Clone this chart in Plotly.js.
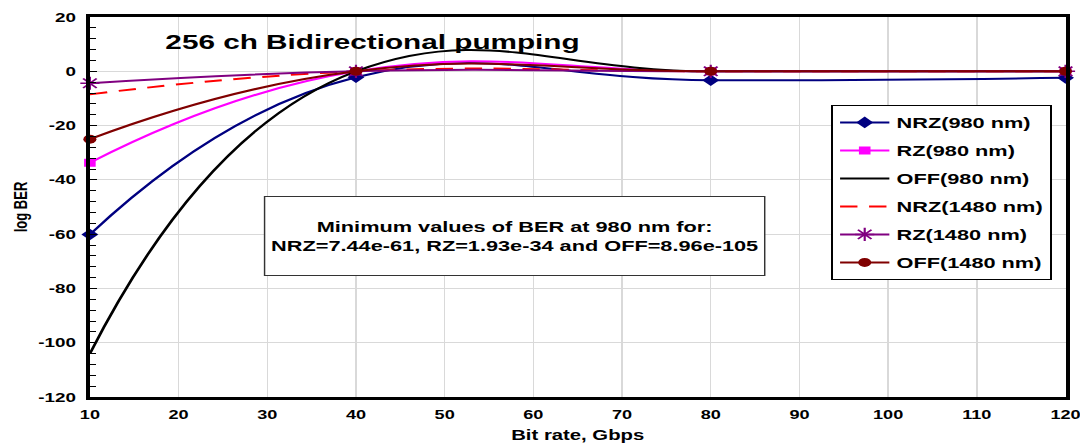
<!DOCTYPE html>
<html>
<head>
<meta charset="utf-8">
<script src="https://cdn.plot.ly/plotly-3.0.1.min.js"></script>
<style>
  html, body { margin: 0; padding: 0; background: #fff; overflow: hidden; }
  /* The chart is laid out at a narrower native width and stretched
     horizontally to fill the 1080px window. */
  #chart { width: 745px; height: 443px; transform-origin: 0 0; transform: scaleX(1.4497); }
</style>
</head>
<body>
<div id="chart"></div>
<script>
// Bit rate (Gbps) at which each configuration was simulated
const bitRate = [10, 40, 80, 120];

// log10(BER) per modulation format and pump wavelength
const nrz980  = [-60.13, -2.2, -3.3, -2.4];
const rz980   = [-33.71, 0, 0, 0];
const off980  = [-104.05, 0, 0, 0];
const nrz1480 = [-8.5, 0, 0, 0];
const rz1480  = [-4.4, 0, 0, 0];
const off1480 = [-25, 0, 0, 0];

const seriesNames = ['NRZ(980 nm)', 'RZ(980 nm)', 'OFF(980 nm)',
                     'NRZ(1480 nm)', 'RZ(1480 nm)', 'OFF(1480 nm)'];

const xTicks = [10, 20, 30, 40, 50, 60, 70, 80, 90, 100, 110, 120];
const yTicks = [-120, -100, -80, -60, -40, -20, 0, 20];

const chartTitle = '256 ch Bidirectional pumping';
const noteText = 'Minimum values of BER at 980 nm for:<br>NRZ=7.44e-61, RZ=1.93e-34 and OFF=8.96e-105';

const FONT = '"Liberation Sans", Arial, sans-serif';

function series(name, y, color, opts) {
  const t = {
    x: bitRate, y: y, name: name, type: 'scatter',
    mode: opts.symbol ? 'lines+markers' : 'lines',
    line: { color: color, width: 2, shape: 'spline', smoothing: 1.3, dash: opts.dash || 'solid' },
    cliponaxis: false,
    legendgroup: name
  };
  if (opts.symbol) {
    t.marker = { symbol: opts.symbol, size: opts.size || 8, color: color,
                 line: { color: color, width: opts.symbol === 'asterisk-open' ? 1.5 : 0 } };
  }
  return t;
}

const traces = [
  series(seriesNames[0], nrz980,  '#000080', { symbol: 'diamond', size: 9 }),
  series(seriesNames[1], rz980,   '#FF00FF', { symbol: 'square', size: 8 }),
  series(seriesNames[2], off980,  '#000000', {}),
  series(seriesNames[3], nrz1480, '#FF0000', { dash: '12px,8px' }),
  series(seriesNames[4], rz1480,  '#800080', { symbol: 'asterisk-open', size: 11 }),
  series(seriesNames[5], off1480, '#800000', { symbol: 'circle', size: 9 })
];

const layout = {
  width: 745, height: 443,
  margin: { l: 62, r: 10, t: 17, b: 46 },
  paper_bgcolor: '#fff', plot_bgcolor: '#fff',
  font: { family: FONT, color: '#000', size: 13, weight: 'bold' },
  showlegend: true,
  legend: {
    x: 0.760, y: 0.768, xanchor: 'left', yanchor: 'top',
    bgcolor: '#fff', bordercolor: '#000', borderwidth: 1,
    font: { family: FONT, size: 15, weight: 'bold', color: '#000' },
    itemwidth: 34,
    tracegroupgap: 5.5
  },
  xaxis: {
    range: [10, 120], tickvals: xTicks, ticktext: xTicks.map(String),
    showgrid: true, gridcolor: '#d9d9d9', gridwidth: 1,
    showline: true, linecolor: '#000', linewidth: 3, mirror: true,
    ticks: '', zeroline: false,
    tickfont: { family: FONT, size: 12.5, weight: 'bold' },
    ticklabelstandoff: 4, ticklabeloverflow: 'allow',
    title: { text: 'Bit rate, Gbps', font: { family: FONT, size: 14, weight: 'bold' }, standoff: 10 }
  },
  yaxis: {
    range: [-120, 20], tickvals: yTicks, ticktext: yTicks.map(String),
    showgrid: true, gridcolor: '#d9d9d9', gridwidth: 1,
    showline: true, linecolor: '#000', linewidth: 3, mirror: true,
    ticks: 'inside', ticklen: 5, tickwidth: 1, tickcolor: '#000', zeroline: false,
    minor: { dtick: 4, ticks: 'inside', ticklen: 4, tickwidth: 1, tickcolor: '#000', showgrid: false },
    tickfont: { family: FONT, size: 13, weight: 'bold' },
    ticklabelstandoff: 4,
    title: { text: 'log BER', font: { family: FONT, size: 13, weight: 'bold' }, standoff: 5 }
  },
  annotations: [
    {
      text: chartTitle, xref: 'x', yref: 'y', x: 18.2, y: 11,
      xanchor: 'left', yanchor: 'middle', showarrow: false,
      font: { family: FONT, size: 20.5, weight: 'bold', color: '#000' }
    },
    {
      text: noteText, xref: 'x', yref: 'y', x: 57.9, y: -60.8,
      xanchor: 'center', yanchor: 'middle', showarrow: false,
      width: 344, height: 78, align: 'center', valign: 'middle',
      bgcolor: '#fff', bordercolor: '#333', borderwidth: 1, borderpad: 0,
      font: { family: FONT, size: 15, weight: 'bold', color: '#000' }
    }
  ]
};

Plotly.newPlot('chart', traces, layout, { staticPlot: true, displayModeBar: false });
</script>
</body>
</html>
